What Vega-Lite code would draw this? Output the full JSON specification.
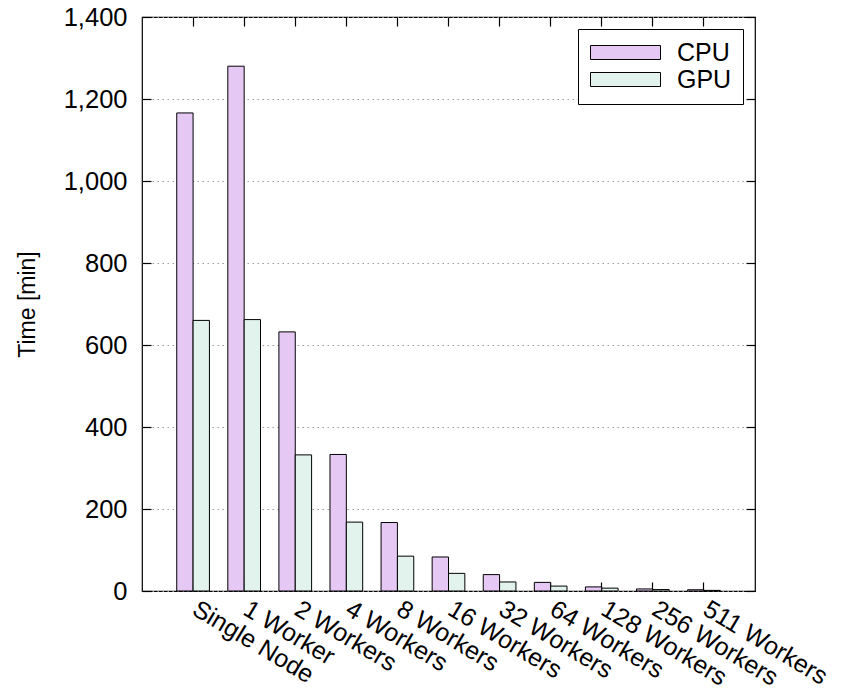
{
  "$schema": "https://vega.github.io/schema/vega-lite/v6.json",
  "autosize": {"type": "none"},
  "padding": {"left": 142, "top": 17, "right": 86, "bottom": 101},
  "width": 613,
  "height": 574,
  "background": "white",
  "config": {
    "font": "Liberation Sans",
    "view": {"stroke": "black", "strokeWidth": 1.2},
    "axis": {
      "domain": false,
      "labelFont": "Liberation Sans",
      "titleFont": "Liberation Sans",
      "labelColor": "black",
      "titleColor": "black",
      "tickColor": "black",
      "tickWidth": 1.2,
      "labelFontSize": 25.5,
      "titleFontSize": 23,
      "titleFontWeight": "normal"
    },
    "legend": {"labelFont": "Liberation Sans"}
  },
  "data": {
    "values": [
      {"nodes": "Single Node", "device": "CPU", "time": 1166},
      {"nodes": "Single Node", "device": "GPU", "time": 660},
      {"nodes": "1 Worker", "device": "CPU", "time": 1280},
      {"nodes": "1 Worker", "device": "GPU", "time": 662},
      {"nodes": "2 Workers", "device": "CPU", "time": 632},
      {"nodes": "2 Workers", "device": "GPU", "time": 332},
      {"nodes": "4 Workers", "device": "CPU", "time": 333},
      {"nodes": "4 Workers", "device": "GPU", "time": 168},
      {"nodes": "8 Workers", "device": "CPU", "time": 167},
      {"nodes": "8 Workers", "device": "GPU", "time": 85},
      {"nodes": "16 Workers", "device": "CPU", "time": 83},
      {"nodes": "16 Workers", "device": "GPU", "time": 43},
      {"nodes": "32 Workers", "device": "CPU", "time": 40},
      {"nodes": "32 Workers", "device": "GPU", "time": 22},
      {"nodes": "64 Workers", "device": "CPU", "time": 21},
      {"nodes": "64 Workers", "device": "GPU", "time": 12},
      {"nodes": "128 Workers", "device": "CPU", "time": 10},
      {"nodes": "128 Workers", "device": "GPU", "time": 7},
      {"nodes": "256 Workers", "device": "CPU", "time": 5},
      {"nodes": "256 Workers", "device": "GPU", "time": 3.5},
      {"nodes": "511 Workers", "device": "CPU", "time": 3},
      {"nodes": "511 Workers", "device": "GPU", "time": 1.5}
    ]
  },
  "layer": [
    {
      "mark": {"type": "bar", "stroke": "black", "strokeWidth": 1, "opacity": 1},
      "encoding": {
        "x": {
          "field": "nodes",
          "type": "nominal",
          "sort": ["Single Node", "1 Worker", "2 Workers", "4 Workers", "8 Workers", "16 Workers", "32 Workers", "64 Workers", "128 Workers", "256 Workers", "511 Workers"],
          "scale": {"paddingInner": 0.36, "paddingOuter": 0.68},
          "axis": {
            "orient": "bottom",
            "title": null,
            "tickSize": -9,
            "labelFontSize": 25,
            "labelPadding": 14,
            "labelOffset": 8,
            "labelAngle": 31,
            "labelAlign": "left",
            "labelBaseline": "top",
            "labelOverlap": false,
            "labelLimit": 0,
            "labelBound": false,
            "labelFlush": false
          }
        },
        "xOffset": {
          "field": "device",
          "type": "nominal",
          "scale": {"domain": ["CPU", "GPU"], "paddingInner": 0, "paddingOuter": 0}
        },
        "y": {
          "field": "time",
          "type": "quantitative",
          "scale": {"domain": [0, 1400], "nice": false, "zero": true},
          "axis": {
            "orient": "left",
            "title": "Time [min]",
            "titlePadding": 24,
            "values": [0, 200, 400, 600, 800, 1000, 1200, 1400],
            "format": ",d",
            "tickSize": -9,
            "labelPadding": 24,
            "grid": true,
            "gridColor": "#9a9a9a",
            "gridDash": [1.5, 3.5],
            "gridWidth": 1.2,
            "labelFlush": false,
            "labelOverlap": false
          }
        },
        "color": {
          "field": "device",
          "type": "nominal",
          "scale": {"domain": ["CPU", "GPU"], "range": ["#e6c8f4", "#e1f3ec"]},
          "legend": {
            "title": null,
            "orient": "top-right",
            "offset": 12,
            "padding": 11,
            "strokeColor": "black",
            "fillColor": "white",
            "cornerRadius": 0,
            "symbolType": "M-5,-1H5V1H-5Z",
            "symbolSize": 196,
            "symbolOffset": 24,
            "symbolStrokeColor": "black",
            "symbolStrokeWidth": 1,
            "symbolOpacity": 1,
            "labelFontSize": 25,
            "labelColor": "black",
            "labelOffset": 39,
            "rowPadding": 1
          }
        }
      }
    },
    {
      "mark": {"type": "bar", "opacity": 0},
      "encoding": {
        "x": {
          "field": "nodes",
          "type": "nominal",
          "sort": ["Single Node", "1 Worker", "2 Workers", "4 Workers", "8 Workers", "16 Workers", "32 Workers", "64 Workers", "128 Workers", "256 Workers", "511 Workers"],
          "axis": {"orient": "top", "title": null, "labels": false, "tickSize": -9}
        },
        "xOffset": {"field": "device", "type": "nominal"},
        "y": {
          "field": "time",
          "type": "quantitative",
          "axis": {
            "orient": "right",
            "title": null,
            "labels": false,
            "grid": false,
            "values": [0, 200, 400, 600, 800, 1000, 1200, 1400],
            "tickSize": -9
          }
        }
      }
    }
  ],
  "resolve": {"axis": {"x": "independent", "y": "independent"}}
}
